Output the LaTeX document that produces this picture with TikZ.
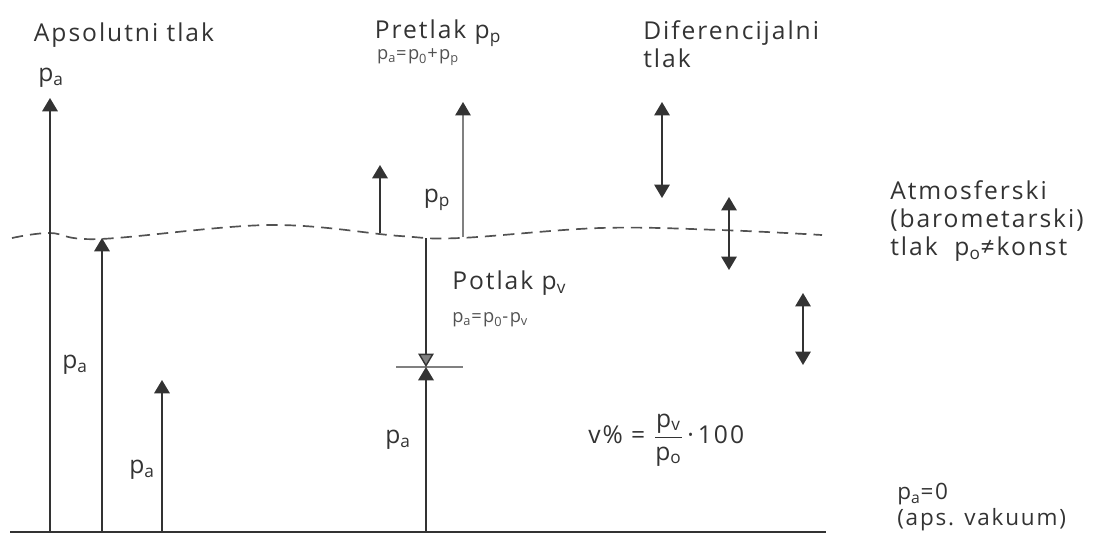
\documentclass[tikz,border=0pt]{standalone}
\usepackage{amsmath}
\usepackage{fontspec}
\setmainfont{Open Sans}[LetterSpace=8]
\usetikzlibrary{arrows.meta}

\definecolor{ink}{HTML}{333333}
\definecolor{pale}{HTML}{808080}
\newcommand{\ix}[1]{\textsubscript{#1}}

\begin{document}
\begin{tikzpicture}[x=0.025cm, y=-0.025cm,
    >={Triangle[width=11pt,length=9.5pt]},
    lbl/.style={text=ink, inner sep=0pt, font=\fontsize{17.5}{20}\selectfont},
    sml/.style={text=ink!85, inner sep=0pt, font=\fontsize{13}{15}\selectfont},
    bar/.style={draw=ink, line width=1.4pt},
    thinbar/.style={draw=pale, line width=0.8pt},
    atm/.style={draw=ink!85, line width=1.2pt, dash pattern=on 8pt off 5pt}]
  \useasboundingbox (0,0) rectangle (1115,554);

  % titles
  \node[lbl] (abs) at (124,35) {Apsolutni tlak};
  \node[lbl] (pabs) at (51,78) {p\ix{a}};
  \node[lbl] (pre) at (438,33) {Pretlak p\ix{p}};
  \node[sml] (preq) at (418,57) {p\ix{a}=p\ix{0}+p\ix{p}};
  \node[lbl, anchor=north west, align=left] (dif) at (643,20) {Diferencijalni\\tlak};
  \node[lbl, anchor=west, align=left] (atmtxt) at (890,221)
    {Atmosferski\\(barometarski)\\tlak\ \ p\ix{o}≠konst};
  \node[lbl, anchor=west, align=left, font=\fontsize{16}{18.5}\selectfont] (vak) at (897,507) {p\ix{a}=0\\(aps. vakuum)};

  % ground and atmosphere
  \coordinate (g0) at (10,532);
  \coordinate (g1) at (826,532);
  \draw[draw=ink, line width=1.8pt] (g0) -- (g1);
  \draw[atm] plot[smooth, tension=0.6] coordinates
    {(12,238) (50,233) (100,239) (270,225) (400,236) (460,238) (600,228) (720,230) (822,235)};

  % absolute pressure
  \coordinate (b1) at (50,532);   \coordinate (t1) at (50,98);
  \coordinate (b2) at (102,532);  \coordinate (t2) at (102,238);
  \coordinate (b3) at (162,532);  \coordinate (t3) at (162,380);
  \draw[bar, ->] (b1) -- (t1);
  \draw[bar, ->] (b2) -- (t2);
  \draw[bar, ->] (b3) -- (t3);
  \node[lbl] (pa2) at (75,365) {p\ix{a}};
  \node[lbl] (pa3) at (142,470) {p\ix{a}};

  % overpressure
  \coordinate (o4) at (380,233);  \coordinate (t4) at (380,165);
  \coordinate (o5) at (463,237);  \coordinate (t5) at (463,102);
  \draw[bar, ->] (o4) -- (t4);
  \draw[thinbar, -{Triangle[width=11pt,length=9.5pt,color=ink]}] (o5) -- (t5);
  \node[lbl] (pp) at (437,200) {p\ix{p}};

  % underpressure
  \coordinate (o6) at (426,238);  \coordinate (m6) at (426,367);
  \coordinate (b6) at (426,532);
  \coordinate (tl) at (396,367);  \coordinate (tr) at (463,367);
  \draw[draw=pale, line width=0.8pt] (tl) -- (tr);
  \draw[draw=ink, line width=1pt, -{Triangle[width=11pt,length=9.5pt,fill=pale]}] (o6) -- (m6);
  \draw[bar, ->] (b6) -- (m6);
  \node[lbl, anchor=west] (pot) at (452,283) {Potlak p\ix{v}};
  \node[sml, anchor=west] (poteq) at (452,320) {p\ix{a}=p\ix{0}-p\ix{v}};
  \node[lbl] (pa6) at (398,440) {p\ix{a}};
  \node[lbl, anchor=west] (vp) at (588,440)
    {v\% = $\dfrac{\text{p\ix{v}}}{\text{p\ix{o}}}$\,\textperiodcentered\,100};

  % differential pressure
  \coordinate (d1a) at (662,102); \coordinate (d1b) at (662,198);
  \coordinate (d2a) at (729,197); \coordinate (d2b) at (729,270);
  \coordinate (d3a) at (803,293); \coordinate (d3b) at (803,365);
  \draw[bar, line width=1pt, <->] (d1a) -- (d1b);
  \draw[bar, line width=1pt, <->] (d2a) -- (d2b);
  \draw[bar, line width=1pt, <->] (d3a) -- (d3b);
\end{tikzpicture}
\end{document}
